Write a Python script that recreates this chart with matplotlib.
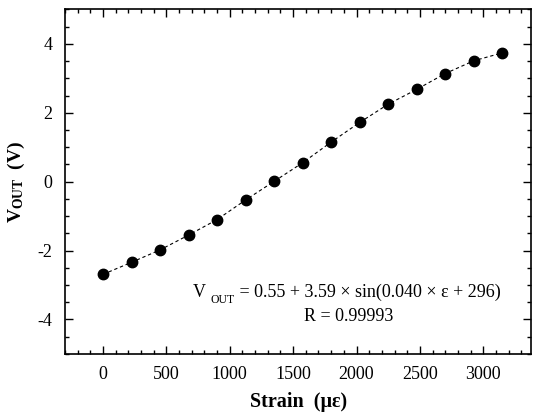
import matplotlib
matplotlib.use("Agg")
import matplotlib.pyplot as plt
from matplotlib.ticker import MultipleLocator

plt.rcParams['font.family'] = ['Liberation Serif', 'DejaVu Serif']
plt.rcParams['mathtext.fontset'] = 'custom'
plt.rcParams['mathtext.rm'] = 'Liberation Serif'
plt.rcParams['mathtext.it'] = 'Liberation Serif:italic'
plt.rcParams['mathtext.bf'] = 'Liberation Serif:bold'

strain = [0, 225, 450, 675, 900, 1125, 1350, 1575, 1800, 2025, 2250, 2475, 2700, 2925, 3150]
vout = [-2.69, -2.34, -1.98, -1.55, -1.10, -0.53, 0.01, 0.55, 1.15, 1.72, 2.25, 2.68, 3.14, 3.51, 3.74]
xticks = [0, 500, 1000, 1500, 2000, 2500, 3000]
yticks = [-4, -2, 0, 2, 4]

fig = plt.figure(figsize=(5.33, 4.12), dpi=100)
ax = fig.add_axes([0.122, 0.141, 0.875, 0.836])

ax.plot(strain, vout, linestyle=(0, (3, 2.5)), color='black', linewidth=0.8)
ax.plot(strain, vout, 'o', color='black', markersize=7.5)

ax.set_xlim(-300, 3380)
ax.set_ylim(-5, 5)
ax.set_xticks(xticks)
ax.set_yticks(yticks)
ax.set_xticklabels([str(t) for t in xticks])
ax.set_yticklabels([str(t) for t in yticks])
ax.xaxis.set_minor_locator(MultipleLocator(100))
ax.yaxis.set_minor_locator(MultipleLocator(0.5))
ax.tick_params(which='both', direction='in', top=True, right=True, labelsize=13, width=1.0)
ax.tick_params(axis='x', pad=9)
ax.tick_params(axis='y', pad=9)
ax.tick_params(which='major', length=6)
ax.tick_params(which='minor', length=3)
for s in ax.spines.values():
    s.set_linewidth(1.2)

ax.set_xlabel('Strain  (με)', fontsize=14.5, fontweight='bold', labelpad=6)
ax.set_ylabel(r'$\mathbf{V}_{\mathbf{OUT}}$  (V)', fontsize=14, fontweight='bold', labelpad=8)

# annotation line 1, built from pieces so the subscript sits low
fs = 13
tV = ax.text(0.275, 0.177, 'V', transform=ax.transAxes, ha='left', va='center', fontsize=fs)
tS = ax.annotate('OUT', xy=(1, 0), xycoords=tV, xytext=(3, -3), textcoords='offset points',
                 ha='left', va='bottom', fontsize=8.5)
tR = ax.annotate(' = 0.55 + 3.59 × sin(0.040 × ε + 296)', xy=(1, 0), xycoords=(tS, tV),
                 xytext=(0, 0), textcoords='offset points', ha='left', va='bottom', fontsize=fs)
ax.text(0.608, 0.108, 'R = 0.99993', transform=ax.transAxes, ha='center', va='center', fontsize=fs)

fig.savefig('out.png', dpi=100)
